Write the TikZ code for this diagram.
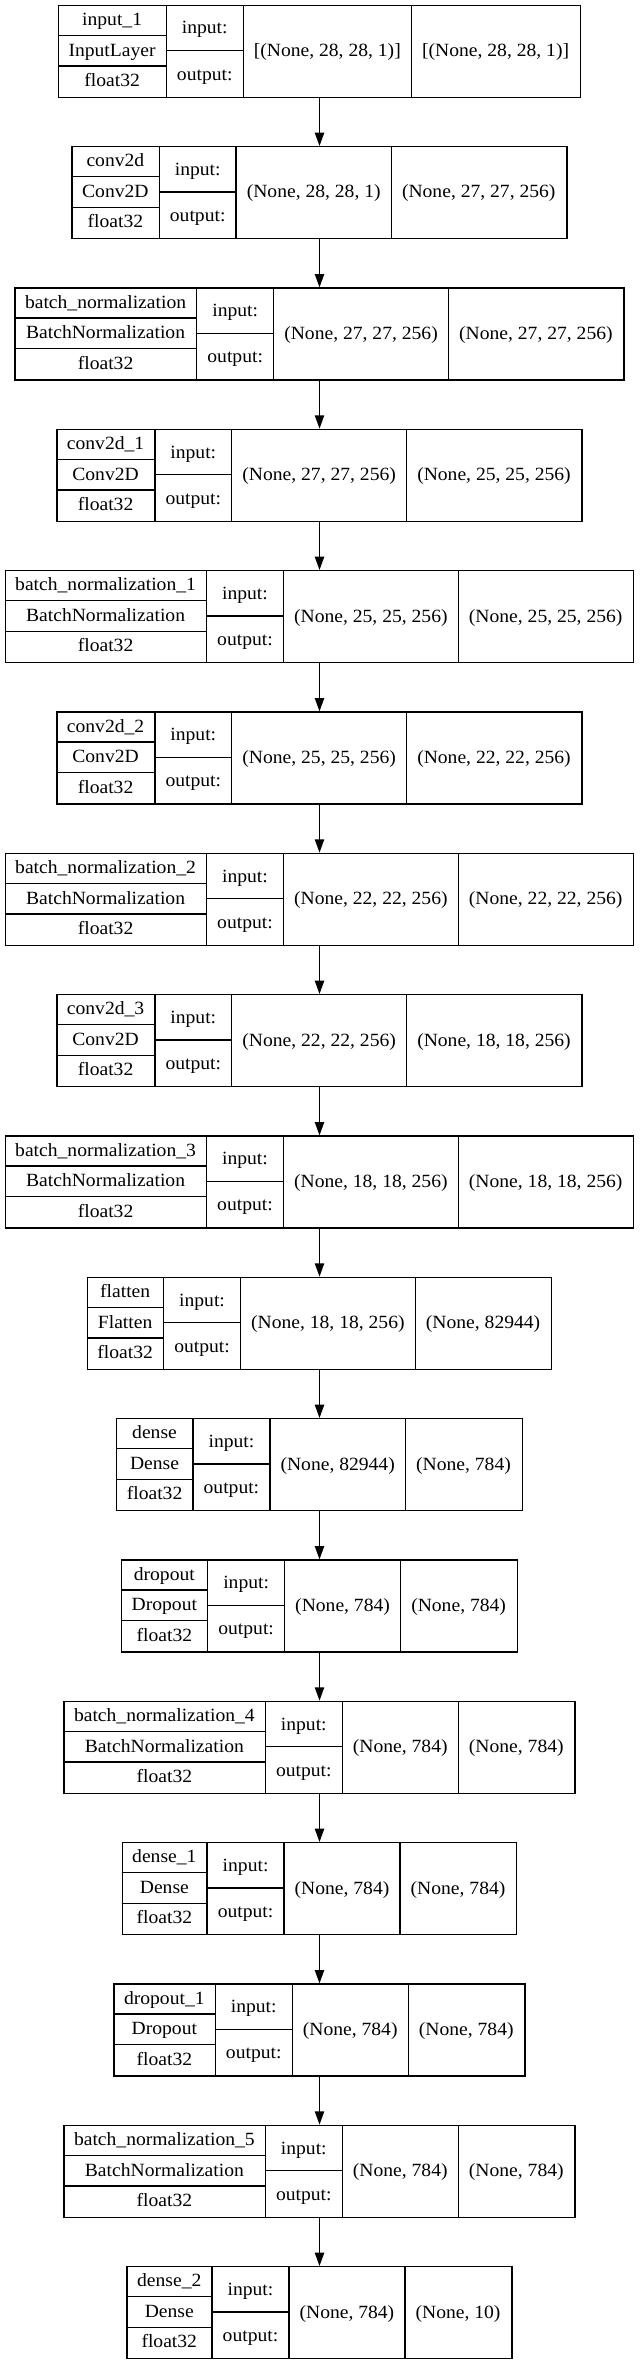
\documentclass[tikz,border=0pt]{standalone}
\usepackage{fontspec}
\setmainfont[FakeStretch=1.05]{Liberation Serif}
\usetikzlibrary{arrows.meta}
\newlength\Wa \newlength\Wb \newlength\Wc \newlength\Wd \newlength\Wt \newlength\Wtmp
\newlength\Xb \newlength\Xc
\newcommand\lfont{\fontsize{14pt}{17pt}\selectfont}
\newcommand\padcol[1]{\advance#1 by 16pt\relax}
\tikzset{
  layer/.style={draw, line width=1pt, minimum height=69pt, inner sep=0pt},
  cellline/.style={line width=1pt},
  lbl/.style={anchor=base, inner sep=0pt, font=\lfont},
  flow/.style={line width=1pt, -{Triangle[length=10pt,width=7pt]}},
}
% measuring pass (outside the picture, where the font is active)
% #1 node name, #2 index, #3 layer name, #4 class, #5 dtype, #6 input shape, #7 output shape
\newcommand\measurebox[7]{%
  \settowidth\Wa{\lfont #3}%
  \settowidth\Wtmp{\lfont #4}\ifdim\Wtmp>\Wa \Wa=\Wtmp\fi
  \settowidth\Wtmp{\lfont #5}\ifdim\Wtmp>\Wa \Wa=\Wtmp\fi
  \padcol\Wa
  \settowidth\Wb{\lfont output:}\padcol\Wb
  \settowidth\Wc{\lfont #6}\padcol\Wc
  \settowidth\Wd{\lfont #7}\padcol\Wd
  \expandafter\xdef\csname #1@wa\endcsname{\the\Wa}%
  \expandafter\xdef\csname #1@wb\endcsname{\the\Wb}%
  \expandafter\xdef\csname #1@wc\endcsname{\the\Wc}%
  \expandafter\xdef\csname #1@wd\endcsname{\the\Wd}%
}
% drawing pass
\newcommand\drawbox[7]{%
  \Wa=\csname #1@wa\endcsname\relax
  \Wb=\csname #1@wb\endcsname\relax
  \Wc=\csname #1@wc\endcsname\relax
  \Wd=\csname #1@wd\endcsname\relax
  \Wt=\Wa \advance\Wt by \Wb \advance\Wt by \Wc \advance\Wt by \Wd
  \Xb=\Wa \advance\Xb by \Wb
  \Xc=\Xb \advance\Xc by \Wc
  \node[layer, minimum width=\Wt] (#1) at (239.625pt,{-(38.5+106*#2)*1pt}) {};
  \begin{scope}[shift={(#1.north west)}]
    \draw[cellline] (\Wa,0pt) -- (\Wa,-69pt);
    \draw[cellline] (\Xb,0pt) -- (\Xb,-69pt);
    \draw[cellline] (\Xc,0pt) -- (\Xc,-69pt);
    \draw[cellline] (0pt,-23pt) -- (\Wa,-23pt);
    \draw[cellline] (0pt,-46pt) -- (\Wa,-46pt);
    \draw[cellline] (\Wa,-34.5pt) -- (\Xb,-34.5pt);
    \node[lbl] (#1-name) at ({0.5*\Wa},-15.7pt) {#3};
    \node[lbl] (#1-class) at ({0.5*\Wa},-38.7pt) {#4};
    \node[lbl] (#1-dtype) at ({0.5*\Wa},-61.3pt) {#5};
    \node[lbl] (#1-inl) at ({0.5*(\Wa+\Xb)},-22pt) {input:};
    \node[lbl] (#1-outl) at ({0.5*(\Wa+\Xb)},-56.7pt) {output:};
    \node[lbl] (#1-ins) at ({0.5*(\Xb+\Xc)},-39pt) {#6};
    \node[lbl] (#1-outs) at ({\Xc+0.5*\Wd},-39pt) {#7};
  \end{scope}
}
\newcommand\alllayers{%
\kerasbox{L0}{0}{input\_1}{InputLayer}{float32}{[(None, 28, 28, 1)]}{[(None, 28, 28, 1)]}%
\kerasbox{L1}{1}{conv2d}{Conv2D}{float32}{(None, 28, 28, 1)}{(None, 27, 27, 256)}%
\kerasbox{L2}{2}{batch\_normalization}{BatchNormalization}{float32}{(None, 27, 27, 256)}{(None, 27, 27, 256)}%
\kerasbox{L3}{3}{conv2d\_1}{Conv2D}{float32}{(None, 27, 27, 256)}{(None, 25, 25, 256)}%
\kerasbox{L4}{4}{batch\_normalization\_1}{BatchNormalization}{float32}{(None, 25, 25, 256)}{(None, 25, 25, 256)}%
\kerasbox{L5}{5}{conv2d\_2}{Conv2D}{float32}{(None, 25, 25, 256)}{(None, 22, 22, 256)}%
\kerasbox{L6}{6}{batch\_normalization\_2}{BatchNormalization}{float32}{(None, 22, 22, 256)}{(None, 22, 22, 256)}%
\kerasbox{L7}{7}{conv2d\_3}{Conv2D}{float32}{(None, 22, 22, 256)}{(None, 18, 18, 256)}%
\kerasbox{L8}{8}{batch\_normalization\_3}{BatchNormalization}{float32}{(None, 18, 18, 256)}{(None, 18, 18, 256)}%
\kerasbox{L9}{9}{flatten}{Flatten}{float32}{(None, 18, 18, 256)}{(None, 82944)}%
\kerasbox{L10}{10}{dense}{Dense}{float32}{(None, 82944)}{(None, 784)}%
\kerasbox{L11}{11}{dropout}{Dropout}{float32}{(None, 784)}{(None, 784)}%
\kerasbox{L12}{12}{batch\_normalization\_4}{BatchNormalization}{float32}{(None, 784)}{(None, 784)}%
\kerasbox{L13}{13}{dense\_1}{Dense}{float32}{(None, 784)}{(None, 784)}%
\kerasbox{L14}{14}{dropout\_1}{Dropout}{float32}{(None, 784)}{(None, 784)}%
\kerasbox{L15}{15}{batch\_normalization\_5}{BatchNormalization}{float32}{(None, 784)}{(None, 784)}%
\kerasbox{L16}{16}{dense\_2}{Dense}{float32}{(None, 784)}{(None, 10)}%
}
\begin{document}
\let\kerasbox\measurebox
\alllayers
\let\kerasbox\drawbox
\begin{tikzpicture}
\useasboundingbox (0pt,0pt) rectangle (479.25pt,-1773.75pt);
\alllayers
\foreach \a/\b in {L0/L1,L1/L2,L2/L3,L3/L4,L4/L5,L5/L6,L6/L7,L7/L8,L8/L9,L9/L10,L10/L11,L11/L12,L12/L13,L13/L14,L14/L15,L15/L16}
  \draw[flow] (\a.south) -- (\b.north);
\end{tikzpicture}
\end{document}
